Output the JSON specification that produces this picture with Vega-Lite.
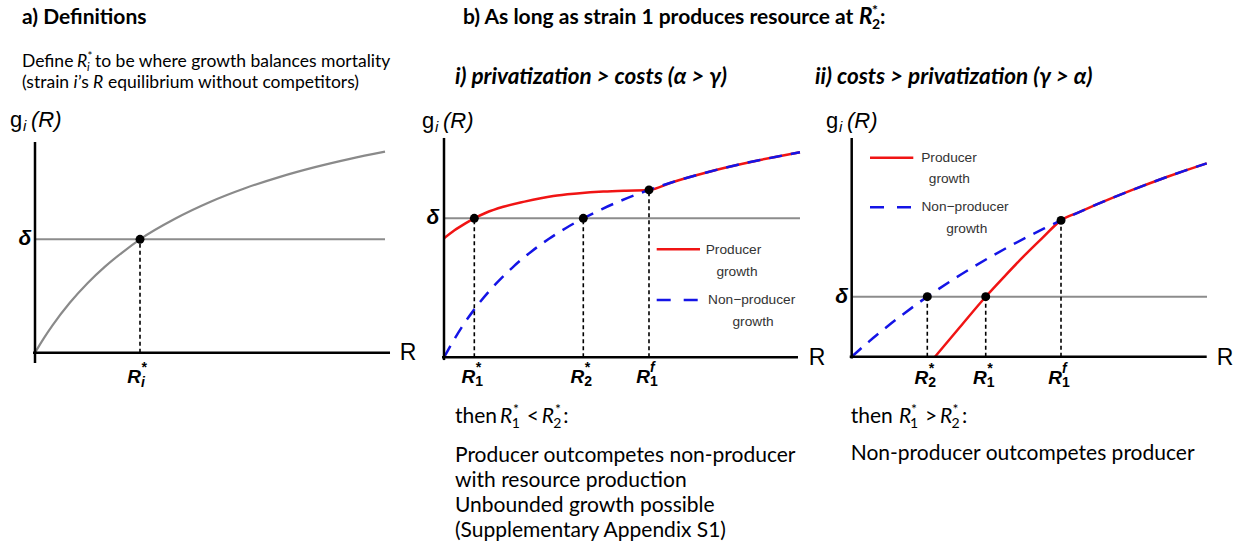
{
"$schema":"https://vega.github.io/schema/vega-lite/v6.json",
"padding":0,"spacing":0,"bounds":"flush","background":"white",
"config":{"view":{"stroke":null},"concat":{"spacing":0}},
"datasets":{
"segs":[
{"p":"a","k":"axis","R":0,"g":1.858,"R2":0,"g2":-0.091},
{"p":"a","k":"axis","R":-0.057,"g":0,"R2":10.143,"g2":0},
{"p":"a","k":"delta","R":0,"g":1,"R2":10,"g2":1},
{"p":"a","k":"vdash","R":3,"g":0,"R2":3,"g2":1},
{"p":"b1","k":"axis","R":0,"g":1.578,"R2":0,"g2":-0.02},
{"p":"b1","k":"axis","R":-0.057,"g":0,"R2":10.114,"g2":0},
{"p":"b1","k":"delta","R":0,"g":1,"R2":10.171,"g2":1},
{"p":"b1","k":"vdash","R":0.866,"g":0,"R2":0.866,"g2":1},
{"p":"b1","k":"vdash","R":3.98,"g":0,"R2":3.98,"g2":1},
{"p":"b1","k":"vdash","R":5.857,"g":0,"R2":5.857,"g2":1.204},
{"p":"b1","k":"legred","R":6.077,"g":0.777,"R2":7.314,"g2":0.777},
{"p":"b1","k":"legblue","R":6.077,"g":0.412,"R2":7.314,"g2":0.412},
{"p":"b2","k":"axis","R":0,"g":3.645,"R2":0,"g2":-0.03},
{"p":"b2","k":"axis","R":-0.057,"g":0,"R2":10.143,"g2":0},
{"p":"b2","k":"delta","R":0,"g":1,"R2":10.151,"g2":1},
{"p":"b2","k":"vdash","R":2.16,"g":0,"R2":2.16,"g2":1},
{"p":"b2","k":"vdash","R":3.829,"g":0,"R2":3.829,"g2":1},
{"p":"b2","k":"vdash","R":5.98,"g":0,"R2":5.98,"g2":2.272},
{"p":"b2","k":"legred","R":0.523,"g":3.317,"R2":1.76,"g2":3.317},
{"p":"b2","k":"legblue","R":0.523,"g":2.49,"R2":1.76,"g2":2.49}
],
"curves":[
{"p":"a","s":"grey","R":0,"g":0},{"p":"a","s":"grey","R":0.25,"g":0.1265},{"p":"a","s":"grey","R":0.5,"g":0.2414},{"p":"a","s":"grey","R":1,"g":0.4427},{"p":"a","s":"grey","R":1.5,"g":0.613},{"p":"a","s":"grey","R":2,"g":0.7591},{"p":"a","s":"grey","R":2.5,"g":0.8857},{"p":"a","s":"grey","R":3,"g":1.0},{"p":"a","s":"grey","R":4,"g":1.1812},{"p":"a","s":"grey","R":5,"g":1.329},{"p":"a","s":"grey","R":6,"g":1.45},{"p":"a","s":"grey","R":7,"g":1.5508},{"p":"a","s":"grey","R":8,"g":1.6362},{"p":"a","s":"grey","R":9,"g":1.7093},{"p":"a","s":"grey","R":10,"g":1.7727},
{"p":"b1","s":"red","R":0,"g":0.856},{"p":"b1","s":"red","R":0.3,"g":0.914},{"p":"b1","s":"red","R":0.6,"g":0.962},{"p":"b1","s":"red","R":0.866,"g":1.0},{"p":"b1","s":"red","R":1.2,"g":1.04},{"p":"b1","s":"red","R":1.694,"g":1.083},{"p":"b1","s":"red","R":2.3,"g":1.12},{"p":"b1","s":"red","R":3.123,"g":1.16},{"p":"b1","s":"red","R":3.8,"g":1.178},{"p":"b1","s":"red","R":4.551,"g":1.192},{"p":"b1","s":"red","R":5.2,"g":1.199},{"p":"b1","s":"red","R":5.857,"g":1.204},{"p":"b1","s":"red","R":6.5,"g":1.2578},{"p":"b1","s":"red","R":7,"g":1.2955},{"p":"b1","s":"red","R":7.5,"g":1.33},{"p":"b1","s":"red","R":8,"g":1.3618},{"p":"b1","s":"red","R":8.5,"g":1.3911},{"p":"b1","s":"red","R":9,"g":1.4182},{"p":"b1","s":"red","R":9.5,"g":1.4434},{"p":"b1","s":"red","R":10.171,"g":1.4746},
{"p":"b1","s":"blue","R":0,"g":0},{"p":"b1","s":"blue","R":0.5,"g":0.2137},{"p":"b1","s":"blue","R":1,"g":0.3882},{"p":"b1","s":"blue","R":1.5,"g":0.5335},{"p":"b1","s":"blue","R":2,"g":0.6564},{"p":"b1","s":"blue","R":2.5,"g":0.7616},{"p":"b1","s":"blue","R":3,"g":0.8527},{"p":"b1","s":"blue","R":3.5,"g":0.9323},{"p":"b1","s":"blue","R":3.98,"g":1.0},{"p":"b1","s":"blue","R":4.5,"g":1.065},{"p":"b1","s":"blue","R":5,"g":1.1209},{"p":"b1","s":"blue","R":5.5,"g":1.1711},{"p":"b1","s":"blue","R":5.857,"g":1.204},{"p":"b1","s":"blue","R":6.5,"g":1.2578},{"p":"b1","s":"blue","R":7,"g":1.2955},{"p":"b1","s":"blue","R":7.5,"g":1.33},{"p":"b1","s":"blue","R":8,"g":1.3618},{"p":"b1","s":"blue","R":8.5,"g":1.3911},{"p":"b1","s":"blue","R":9,"g":1.4182},{"p":"b1","s":"blue","R":9.5,"g":1.4434},{"p":"b1","s":"blue","R":10.171,"g":1.4746},
{"p":"b2","s":"red","R":2.38,"g":0},{"p":"b2","s":"red","R":3.1,"g":0.5},{"p":"b2","s":"red","R":3.829,"g":1.0},{"p":"b2","s":"red","R":4.4,"g":1.36},{"p":"b2","s":"red","R":4.903,"g":1.667},{"p":"b2","s":"red","R":5.45,"g":1.98},{"p":"b2","s":"red","R":5.98,"g":2.272},{"p":"b2","s":"red","R":6.5,"g":2.4105},{"p":"b2","s":"red","R":7,"g":2.5377},{"p":"b2","s":"red","R":7.5,"g":2.6594},{"p":"b2","s":"red","R":8,"g":2.7758},{"p":"b2","s":"red","R":8.5,"g":2.8873},{"p":"b2","s":"red","R":9,"g":2.9943},{"p":"b2","s":"red","R":9.5,"g":3.097},{"p":"b2","s":"red","R":10.143,"g":3.2232},
{"p":"b2","s":"blue","R":0,"g":0},{"p":"b2","s":"blue","R":0.5,"g":0.2558},{"p":"b2","s":"blue","R":1,"g":0.4959},{"p":"b2","s":"blue","R":1.5,"g":0.7217},{"p":"b2","s":"blue","R":2,"g":0.9345},{"p":"b2","s":"blue","R":2.16,"g":1.0},{"p":"b2","s":"blue","R":2.5,"g":1.1353},{"p":"b2","s":"blue","R":3,"g":1.3252},{"p":"b2","s":"blue","R":3.5,"g":1.505},{"p":"b2","s":"blue","R":4,"g":1.6754},{"p":"b2","s":"blue","R":4.5,"g":1.8373},{"p":"b2","s":"blue","R":5,"g":1.9911},{"p":"b2","s":"blue","R":5.5,"g":2.1376},{"p":"b2","s":"blue","R":5.98,"g":2.272},{"p":"b2","s":"blue","R":6.5,"g":2.4105},{"p":"b2","s":"blue","R":7,"g":2.5377},{"p":"b2","s":"blue","R":7.5,"g":2.6594},{"p":"b2","s":"blue","R":8,"g":2.7758},{"p":"b2","s":"blue","R":8.5,"g":2.8873},{"p":"b2","s":"blue","R":9,"g":2.9943},{"p":"b2","s":"blue","R":9.5,"g":3.097},{"p":"b2","s":"blue","R":10.143,"g":3.2232}
],
"pts":[
{"p":"a","R":3,"g":1},
{"p":"b1","R":0.866,"g":1},{"p":"b1","R":3.98,"g":1},{"p":"b1","R":5.857,"g":1.204},
{"p":"b2","R":2.16,"g":1},{"p":"b2","R":3.829,"g":1},{"p":"b2","R":5.98,"g":2.272}
],
"texts":[
{"p":"a","k":"hb","R":-0.371,"g":2.899,"t":"a) Definitions"},
{"p":"a","k":"d","R":-0.371,"g":2.519,"t":"Define"},
{"p":"a","k":"d","R":1.714,"g":2.519,"t":"to be where growth balances mortality"},
{"p":"a","k":"d","R":-0.371,"g":2.334,"t":"(strain"},
{"p":"a","k":"d","R":1.229,"g":2.334,"t":"’s"},
{"p":"a","k":"d","R":2.086,"g":2.334,"t":"equilibrium without competitors)"},
{"p":"a","k":"di","R":1.2,"g":2.519,"t":"R"},
{"p":"a","k":"di","R":1.1,"g":2.334,"t":"i"},
{"p":"a","k":"di","R":1.657,"g":2.334,"t":"R"},
{"p":"a","k":"dsub","R":1.486,"g":2.519,"t":"i"},
{"p":"a","k":"dsup","R":1.5,"g":2.519,"t":"*"},
{"p":"a","k":"ar","R":-0.714,"g":1.986,"t":"g"},
{"p":"a","k":"arsub","R":-0.343,"g":1.986,"t":"i"},
{"p":"a","k":"ari","R":-0.114,"g":1.986,"t":"(R)"},
{"p":"a","k":"delta","R":-0.286,"g":1.0,"t":"δ"},
{"p":"a","k":"axR","R":10.657,"g":0.0,"t":"R"},
{"p":"a","k":"lab","R":3.029,"g":-0.267,"t":"R"},
{"p":"a","k":"labsub","R":3.029,"g":-0.267,"t":"i"},
{"p":"a","k":"labsup","R":3.029,"g":-0.267,"t":"*"},
{"p":"b1","k":"hb","R":0.543,"g":2.398,"t":"b) As long as strain 1 produces resource at"},
{"p":"b1","k":"hbi","R":11.857,"g":2.398,"t":"R"},
{"p":"b1","k":"hbsub","R":12.229,"g":2.398,"t":"2"},
{"p":"b1","k":"hbsup","R":12.229,"g":2.398,"t":"*"},
{"p":"b1","k":"hb","R":12.457,"g":2.398,"t":":"},
{"p":"b1","k":"hbi","R":0.314,"g":1.966,"t":"i) privatization > costs (α > γ)"},
{"p":"b1","k":"ar","R":-0.629,"g":1.653,"t":"g"},
{"p":"b1","k":"arsub","R":-0.257,"g":1.653,"t":"i"},
{"p":"b1","k":"ari","R":-0.029,"g":1.653,"t":"(R)"},
{"p":"b1","k":"delta","R":-0.314,"g":1.0,"t":"δ"},
{"p":"b1","k":"axR","R":10.657,"g":-0.005,"t":"R"},
{"p":"b1","k":"lab","R":0.895,"g":-0.188,"t":"R"},
{"p":"b1","k":"labsub","R":0.895,"g":-0.188,"t":"1"},
{"p":"b1","k":"labsup","R":0.895,"g":-0.188,"t":"*"},
{"p":"b1","k":"lab","R":4.009,"g":-0.188,"t":"R"},
{"p":"b1","k":"labsub","R":4.009,"g":-0.188,"t":"2"},
{"p":"b1","k":"labsup","R":4.009,"g":-0.188,"t":"*"},
{"p":"b1","k":"lab","R":5.886,"g":-0.188,"t":"R"},
{"p":"b1","k":"labsub","R":5.886,"g":-0.188,"t":"1"},
{"p":"b1","k":"labsup","R":5.886,"g":-0.188,"t":"f"},
{"p":"b1","k":"leg","R":8.271,"g":0.772,"t":"Producer"},
{"p":"b1","k":"leg","R":8.371,"g":0.616,"t":"growth"},
{"p":"b1","k":"leg","R":8.791,"g":0.412,"t":"Non−producer"},
{"p":"b1","k":"leg","R":8.829,"g":0.256,"t":"growth"},
{"p":"b1","k":"b","R":0.314,"g":-0.475,"t":"then"},
{"p":"b1","k":"b","R":2.363,"g":-0.475,"t":"<"},
{"p":"b1","k":"b","R":3.409,"g":-0.475,"t":":"},
{"p":"b1","k":"b","R":0.314,"g":-0.751,"t":"Producer outcompetes non-producer"},
{"p":"b1","k":"b","R":0.314,"g":-0.931,"t":"with resource production"},
{"p":"b1","k":"b","R":0.314,"g":-1.111,"t":"Unbounded growth possible"},
{"p":"b1","k":"b","R":0.314,"g":-1.291,"t":"(Supplementary Appendix S1)"},
{"p":"b1","k":"bi","R":1.6,"g":-0.475,"t":"R"},
{"p":"b1","k":"bi","R":2.791,"g":-0.475,"t":"R"},
{"p":"b1","k":"bsub","R":1.934,"g":-0.475,"t":"1"},
{"p":"b1","k":"bsub","R":3.123,"g":-0.475,"t":"2"},
{"p":"b1","k":"bsup","R":1.971,"g":-0.475,"t":"*"},
{"p":"b1","k":"bsup","R":3.171,"g":-0.475,"t":"*"},
{"p":"b2","k":"hbi","R":-1.049,"g":4.545,"t":"ii) costs > privatization (γ > α)"},
{"p":"b2","k":"ar","R":-0.734,"g":3.82,"t":"g"},
{"p":"b2","k":"arsub","R":-0.366,"g":3.82,"t":"i"},
{"p":"b2","k":"ari","R":-0.134,"g":3.82,"t":"(R)"},
{"p":"b2","k":"delta","R":-0.286,"g":1.0,"t":"δ"},
{"p":"b2","k":"axR","R":10.666,"g":-0.022,"t":"R"},
{"p":"b2","k":"lab","R":2.189,"g":-0.447,"t":"R"},
{"p":"b2","k":"labsub","R":2.189,"g":-0.447,"t":"2"},
{"p":"b2","k":"labsup","R":2.189,"g":-0.447,"t":"*"},
{"p":"b2","k":"lab","R":3.857,"g":-0.447,"t":"R"},
{"p":"b2","k":"labsub","R":3.857,"g":-0.447,"t":"1"},
{"p":"b2","k":"labsup","R":3.857,"g":-0.447,"t":"*"},
{"p":"b2","k":"lab","R":6.009,"g":-0.447,"t":"R"},
{"p":"b2","k":"labsub","R":6.009,"g":-0.447,"t":"1"},
{"p":"b2","k":"labsup","R":6.009,"g":-0.447,"t":"f"},
{"p":"b2","k":"leg","R":2.78,"g":3.317,"t":"Producer"},
{"p":"b2","k":"leg","R":2.789,"g":2.957,"t":"growth"},
{"p":"b2","k":"leg","R":3.237,"g":2.49,"t":"Non−producer"},
{"p":"b2","k":"leg","R":3.286,"g":2.123,"t":"growth"},
{"p":"b2","k":"b","R":-0.029,"g":-1.11,"t":"then"},
{"p":"b2","k":"b","R":2.094,"g":-1.11,"t":">"},
{"p":"b2","k":"b","R":3.151,"g":-1.11,"t":":"},
{"p":"b2","k":"b","R":-0.029,"g":-1.722,"t":"Non-producer outcompetes producer"},
{"p":"b2","k":"bi","R":1.351,"g":-1.11,"t":"R"},
{"p":"b2","k":"bi","R":2.523,"g":-1.11,"t":"R"},
{"p":"b2","k":"bsub","R":1.666,"g":-1.11,"t":"1"},
{"p":"b2","k":"bsub","R":2.851,"g":-1.11,"t":"2"},
{"p":"b2","k":"bsup","R":1.694,"g":-1.11,"t":"*"},
{"p":"b2","k":"bsup","R":2.88,"g":-1.11,"t":"*"}
]
},
"hconcat":[
{"width":415,"height":548,
"encoding":{"x":{"field":"R","type":"quantitative","scale":{"domain":[-1,10.857],"nice":false,"zero":false},"axis":null},"y":{"field":"g","type":"quantitative","scale":{"domain":[-1.722,3.110],"nice":false,"zero":false},"axis":null}},
"layer":[
{"data":{"name":"segs"},"transform":[{"filter":"datum.p=='a'&&datum.k=='delta'"}],"mark":{"type":"rule","color":"#8c8c8c","strokeWidth":2},"encoding":{"x2":{"field":"R2"},"y2":{"field":"g2"}}},
{"data":{"name":"curves"},"transform":[{"filter":"datum.p=='a'"}],"mark":{"type":"line","color":"#8a8a8a","strokeWidth":2.2,"interpolate":"monotone"},"encoding":{}},
{"data":{"name":"segs"},"transform":[{"filter":"datum.p=='a'&&datum.k=='axis'"}],"mark":{"type":"rule","color":"#000","strokeWidth":2.5},"encoding":{"x2":{"field":"R2"},"y2":{"field":"g2"}}},
{"data":{"name":"segs"},"transform":[{"filter":"datum.p=='a'&&datum.k=='vdash'"}],"mark":{"type":"rule","color":"#000","strokeWidth":1.6,"strokeDash":[4,3]},"encoding":{"x2":{"field":"R2"},"y2":{"field":"g2"}}},
{"data":{"name":"pts"},"transform":[{"filter":"datum.p=='a'"}],"mark":{"type":"point","filled":true,"color":"#000","size":80,"opacity":1},"encoding":{}},
{"data":{"name":"texts"},"transform":[{"filter":"datum.p=='a'&&datum.k=='hb'"}],"mark":{"type":"text","font":"Lato","fontSize":21,"fontWeight":"bold","align":"left","baseline":"alphabetic","color":"#000"},"encoding":{"text":{"field":"t"}}},
{"data":{"name":"texts"},"transform":[{"filter":"datum.p=='a'&&datum.k=='d'"}],"mark":{"type":"text","font":"Lato","fontSize":17.5,"align":"left","baseline":"alphabetic","color":"#000"},"encoding":{"text":{"field":"t"}}},
{"data":{"name":"texts"},"transform":[{"filter":"datum.p=='a'&&datum.k=='di'"}],"mark":{"type":"text","font":"Lato","fontSize":17.5,"fontStyle":"italic","align":"left","baseline":"alphabetic","color":"#000"},"encoding":{"text":{"field":"t"}}},
{"data":{"name":"texts"},"transform":[{"filter":"datum.p=='a'&&datum.k=='dsub'"}],"mark":{"type":"text","font":"Lato","fontSize":11.5,"fontStyle":"italic","align":"left","baseline":"alphabetic","dy":4,"color":"#000"},"encoding":{"text":{"field":"t"}}},
{"data":{"name":"texts"},"transform":[{"filter":"datum.p=='a'&&datum.k=='dsup'"}],"mark":{"type":"text","font":"Lato","fontSize":11.5,"align":"left","baseline":"alphabetic","dy":-7,"color":"#000"},"encoding":{"text":{"field":"t"}}},
{"data":{"name":"texts"},"transform":[{"filter":"datum.p=='a'&&datum.k=='ar'"}],"mark":{"type":"text","font":"Liberation Sans","fontSize":22,"align":"left","baseline":"alphabetic","color":"#000"},"encoding":{"text":{"field":"t"}}},
{"data":{"name":"texts"},"transform":[{"filter":"datum.p=='a'&&datum.k=='arsub'"}],"mark":{"type":"text","font":"Liberation Sans","fontSize":15,"fontStyle":"italic","align":"left","baseline":"alphabetic","dy":4,"color":"#000"},"encoding":{"text":{"field":"t"}}},
{"data":{"name":"texts"},"transform":[{"filter":"datum.p=='a'&&datum.k=='ari'"}],"mark":{"type":"text","font":"Liberation Sans","fontSize":22,"fontStyle":"italic","align":"left","baseline":"alphabetic","color":"#000"},"encoding":{"text":{"field":"t"}}},
{"data":{"name":"texts"},"transform":[{"filter":"datum.p=='a'&&datum.k=='delta'"}],"mark":{"type":"text","font":"Liberation Sans","fontSize":21,"fontWeight":"bold","fontStyle":"italic","align":"center","baseline":"middle","color":"#000"},"encoding":{"text":{"field":"t"}}},
{"data":{"name":"texts"},"transform":[{"filter":"datum.p=='a'&&datum.k=='axR'"}],"mark":{"type":"text","font":"Liberation Sans","fontSize":23,"align":"center","baseline":"middle","color":"#000"},"encoding":{"text":{"field":"t"}}},
{"data":{"name":"texts"},"transform":[{"filter":"datum.p=='a'&&datum.k=='lab'"}],"mark":{"type":"text","font":"Liberation Sans","fontSize":19,"fontWeight":"bold","fontStyle":"italic","align":"right","baseline":"alphabetic","color":"#000"},"encoding":{"text":{"field":"t"}}},
{"data":{"name":"texts"},"transform":[{"filter":"datum.p=='a'&&datum.k=='labsub'"}],"mark":{"type":"text","font":"Liberation Sans","fontSize":14,"fontWeight":"bold","fontStyle":"italic","align":"left","baseline":"alphabetic","dy":4,"color":"#000"},"encoding":{"text":{"field":"t"}}},
{"data":{"name":"texts"},"transform":[{"filter":"datum.p=='a'&&datum.k=='labsup'"}],"mark":{"type":"text","font":"Liberation Sans","fontSize":14,"fontWeight":"bold","fontStyle":"italic","align":"left","baseline":"alphabetic","dy":-11,"color":"#000"},"encoding":{"text":{"field":"t"}}}
]},
{"width":415,"height":548,
"encoding":{"x":{"field":"R","type":"quantitative","scale":{"domain":[-0.8286,11.0286],"nice":false,"zero":false},"axis":null},"y":{"field":"g","type":"quantitative","scale":{"domain":[-1.3719,2.5705],"nice":false,"zero":false},"axis":null}},
"layer":[
{"data":{"name":"segs"},"transform":[{"filter":"datum.p=='b1'&&datum.k=='delta'"}],"mark":{"type":"rule","color":"#8c8c8c","strokeWidth":2},"encoding":{"x2":{"field":"R2"},"y2":{"field":"g2"}}},
{"data":{"name":"curves"},"transform":[{"filter":"datum.p=='b1'&&datum.s=='red'"}],"mark":{"type":"line","color":"#f01414","strokeWidth":2.5,"interpolate":"monotone"},"encoding":{}},
{"data":{"name":"curves"},"transform":[{"filter":"datum.p=='b1'&&datum.s=='blue'"}],"mark":{"type":"line","color":"#1414e6","strokeWidth":2.5,"strokeDash":[13,9],"interpolate":"monotone"},"encoding":{}},
{"data":{"name":"segs"},"transform":[{"filter":"datum.p=='b1'&&datum.k=='axis'"}],"mark":{"type":"rule","color":"#000","strokeWidth":2.5},"encoding":{"x2":{"field":"R2"},"y2":{"field":"g2"}}},
{"data":{"name":"segs"},"transform":[{"filter":"datum.p=='b1'&&datum.k=='vdash'"}],"mark":{"type":"rule","color":"#000","strokeWidth":1.6,"strokeDash":[4,3]},"encoding":{"x2":{"field":"R2"},"y2":{"field":"g2"}}},
{"data":{"name":"segs"},"transform":[{"filter":"datum.p=='b1'&&datum.k=='legred'"}],"mark":{"type":"rule","color":"#f01414","strokeWidth":2.5},"encoding":{"x2":{"field":"R2"},"y2":{"field":"g2"}}},
{"data":{"name":"segs"},"transform":[{"filter":"datum.p=='b1'&&datum.k=='legblue'"}],"mark":{"type":"rule","color":"#1414e6","strokeWidth":2.5,"strokeDash":[14,13]},"encoding":{"x2":{"field":"R2"},"y2":{"field":"g2"}}},
{"data":{"name":"pts"},"transform":[{"filter":"datum.p=='b1'"}],"mark":{"type":"point","filled":true,"color":"#000","size":80,"opacity":1},"encoding":{}},
{"data":{"name":"texts"},"transform":[{"filter":"datum.p=='b1'&&datum.k=='hb'"}],"mark":{"type":"text","font":"Lato","fontSize":21,"fontWeight":"bold","align":"left","baseline":"alphabetic","color":"#000"},"encoding":{"text":{"field":"t"}}},
{"data":{"name":"texts"},"transform":[{"filter":"datum.p=='b1'&&datum.k=='hbi'"}],"mark":{"type":"text","font":"Lato","fontSize":22.5,"fontWeight":"bold","fontStyle":"italic","align":"left","baseline":"alphabetic","color":"#000"},"encoding":{"text":{"field":"t"}}},
{"data":{"name":"texts"},"transform":[{"filter":"datum.p=='b1'&&datum.k=='hbsub'"}],"mark":{"type":"text","font":"Lato","fontSize":14,"fontWeight":"bold","align":"left","baseline":"alphabetic","dy":5,"color":"#000"},"encoding":{"text":{"field":"t"}}},
{"data":{"name":"texts"},"transform":[{"filter":"datum.p=='b1'&&datum.k=='hbsup'"}],"mark":{"type":"text","font":"Lato","fontSize":14,"fontWeight":"bold","align":"left","baseline":"alphabetic","dy":-9,"color":"#000"},"encoding":{"text":{"field":"t"}}},
{"data":{"name":"texts"},"transform":[{"filter":"datum.p=='b1'&&datum.k=='ar'"}],"mark":{"type":"text","font":"Liberation Sans","fontSize":22,"align":"left","baseline":"alphabetic","color":"#000"},"encoding":{"text":{"field":"t"}}},
{"data":{"name":"texts"},"transform":[{"filter":"datum.p=='b1'&&datum.k=='arsub'"}],"mark":{"type":"text","font":"Liberation Sans","fontSize":15,"fontStyle":"italic","align":"left","baseline":"alphabetic","dy":4,"color":"#000"},"encoding":{"text":{"field":"t"}}},
{"data":{"name":"texts"},"transform":[{"filter":"datum.p=='b1'&&datum.k=='ari'"}],"mark":{"type":"text","font":"Liberation Sans","fontSize":22,"fontStyle":"italic","align":"left","baseline":"alphabetic","color":"#000"},"encoding":{"text":{"field":"t"}}},
{"data":{"name":"texts"},"transform":[{"filter":"datum.p=='b1'&&datum.k=='delta'"}],"mark":{"type":"text","font":"Liberation Sans","fontSize":21,"fontWeight":"bold","fontStyle":"italic","align":"center","baseline":"middle","color":"#000"},"encoding":{"text":{"field":"t"}}},
{"data":{"name":"texts"},"transform":[{"filter":"datum.p=='b1'&&datum.k=='axR'"}],"mark":{"type":"text","font":"Liberation Sans","fontSize":23,"align":"center","baseline":"middle","color":"#000"},"encoding":{"text":{"field":"t"}}},
{"data":{"name":"texts"},"transform":[{"filter":"datum.p=='b1'&&datum.k=='lab'"}],"mark":{"type":"text","font":"Liberation Sans","fontSize":19,"fontWeight":"bold","fontStyle":"italic","align":"right","baseline":"alphabetic","color":"#000"},"encoding":{"text":{"field":"t"}}},
{"data":{"name":"texts"},"transform":[{"filter":"datum.p=='b1'&&datum.k=='labsub'"}],"mark":{"type":"text","font":"Liberation Sans","fontSize":14,"fontWeight":"bold","align":"left","baseline":"alphabetic","dy":3,"color":"#000"},"encoding":{"text":{"field":"t"}}},
{"data":{"name":"texts"},"transform":[{"filter":"datum.p=='b1'&&datum.k=='labsup'"}],"mark":{"type":"text","font":"Liberation Sans","fontSize":14,"fontWeight":"bold","fontStyle":"italic","align":"left","baseline":"alphabetic","dy":-11,"color":"#000"},"encoding":{"text":{"field":"t"}}},
{"data":{"name":"texts"},"transform":[{"filter":"datum.p=='b1'&&datum.k=='leg'"}],"mark":{"type":"text","font":"Liberation Sans","fontSize":13.7,"align":"center","baseline":"middle","color":"#333"},"encoding":{"text":{"field":"t"}}},
{"data":{"name":"texts"},"transform":[{"filter":"datum.p=='b1'&&datum.k=='b'"}],"mark":{"type":"text","font":"Lato","fontSize":21,"align":"left","baseline":"alphabetic","color":"#000"},"encoding":{"text":{"field":"t"}}},
{"data":{"name":"texts"},"transform":[{"filter":"datum.p=='b1'&&datum.k=='bi'"}],"mark":{"type":"text","font":"Lato","fontSize":21,"fontStyle":"italic","align":"left","baseline":"alphabetic","color":"#000"},"encoding":{"text":{"field":"t"}}},
{"data":{"name":"texts"},"transform":[{"filter":"datum.p=='b1'&&datum.k=='bsub'"}],"mark":{"type":"text","font":"Lato","fontSize":14,"align":"left","baseline":"alphabetic","dy":5,"color":"#000"},"encoding":{"text":{"field":"t"}}},
{"data":{"name":"texts"},"transform":[{"filter":"datum.p=='b1'&&datum.k=='bsup'"}],"mark":{"type":"text","font":"Lato","fontSize":14,"align":"left","baseline":"alphabetic","dy":-9,"color":"#000"},"encoding":{"text":{"field":"t"}}}
]},
{"width":415,"height":548,
"encoding":{"x":{"field":"R","type":"quantitative","scale":{"domain":[-0.62,11.237],"nice":false,"zero":false},"axis":null},"y":{"field":"g","type":"quantitative","scale":{"domain":[-3.188,5.945],"nice":false,"zero":false},"axis":null}},
"layer":[
{"data":{"name":"segs"},"transform":[{"filter":"datum.p=='b2'&&datum.k=='delta'"}],"mark":{"type":"rule","color":"#8c8c8c","strokeWidth":2},"encoding":{"x2":{"field":"R2"},"y2":{"field":"g2"}}},
{"data":{"name":"curves"},"transform":[{"filter":"datum.p=='b2'&&datum.s=='red'"}],"mark":{"type":"line","color":"#f01414","strokeWidth":2.5,"interpolate":"monotone"},"encoding":{}},
{"data":{"name":"curves"},"transform":[{"filter":"datum.p=='b2'&&datum.s=='blue'"}],"mark":{"type":"line","color":"#1414e6","strokeWidth":2.5,"strokeDash":[13,9],"interpolate":"monotone"},"encoding":{}},
{"data":{"name":"segs"},"transform":[{"filter":"datum.p=='b2'&&datum.k=='axis'"}],"mark":{"type":"rule","color":"#000","strokeWidth":2.5},"encoding":{"x2":{"field":"R2"},"y2":{"field":"g2"}}},
{"data":{"name":"segs"},"transform":[{"filter":"datum.p=='b2'&&datum.k=='vdash'"}],"mark":{"type":"rule","color":"#000","strokeWidth":1.6,"strokeDash":[4,3]},"encoding":{"x2":{"field":"R2"},"y2":{"field":"g2"}}},
{"data":{"name":"segs"},"transform":[{"filter":"datum.p=='b2'&&datum.k=='legred'"}],"mark":{"type":"rule","color":"#f01414","strokeWidth":2.5},"encoding":{"x2":{"field":"R2"},"y2":{"field":"g2"}}},
{"data":{"name":"segs"},"transform":[{"filter":"datum.p=='b2'&&datum.k=='legblue'"}],"mark":{"type":"rule","color":"#1414e6","strokeWidth":2.5,"strokeDash":[14,13]},"encoding":{"x2":{"field":"R2"},"y2":{"field":"g2"}}},
{"data":{"name":"pts"},"transform":[{"filter":"datum.p=='b2'"}],"mark":{"type":"point","filled":true,"color":"#000","size":80,"opacity":1},"encoding":{}},
{"data":{"name":"texts"},"transform":[{"filter":"datum.p=='b2'&&datum.k=='hbi'"}],"mark":{"type":"text","font":"Lato","fontSize":22.5,"fontWeight":"bold","fontStyle":"italic","align":"left","baseline":"alphabetic","color":"#000"},"encoding":{"text":{"field":"t"}}},
{"data":{"name":"texts"},"transform":[{"filter":"datum.p=='b2'&&datum.k=='ar'"}],"mark":{"type":"text","font":"Liberation Sans","fontSize":22,"align":"left","baseline":"alphabetic","color":"#000"},"encoding":{"text":{"field":"t"}}},
{"data":{"name":"texts"},"transform":[{"filter":"datum.p=='b2'&&datum.k=='arsub'"}],"mark":{"type":"text","font":"Liberation Sans","fontSize":15,"fontStyle":"italic","align":"left","baseline":"alphabetic","dy":4,"color":"#000"},"encoding":{"text":{"field":"t"}}},
{"data":{"name":"texts"},"transform":[{"filter":"datum.p=='b2'&&datum.k=='ari'"}],"mark":{"type":"text","font":"Liberation Sans","fontSize":22,"fontStyle":"italic","align":"left","baseline":"alphabetic","color":"#000"},"encoding":{"text":{"field":"t"}}},
{"data":{"name":"texts"},"transform":[{"filter":"datum.p=='b2'&&datum.k=='delta'"}],"mark":{"type":"text","font":"Liberation Sans","fontSize":21,"fontWeight":"bold","fontStyle":"italic","align":"center","baseline":"middle","color":"#000"},"encoding":{"text":{"field":"t"}}},
{"data":{"name":"texts"},"transform":[{"filter":"datum.p=='b2'&&datum.k=='axR'"}],"mark":{"type":"text","font":"Liberation Sans","fontSize":23,"align":"center","baseline":"middle","color":"#000"},"encoding":{"text":{"field":"t"}}},
{"data":{"name":"texts"},"transform":[{"filter":"datum.p=='b2'&&datum.k=='lab'"}],"mark":{"type":"text","font":"Liberation Sans","fontSize":19,"fontWeight":"bold","fontStyle":"italic","align":"right","baseline":"alphabetic","color":"#000"},"encoding":{"text":{"field":"t"}}},
{"data":{"name":"texts"},"transform":[{"filter":"datum.p=='b2'&&datum.k=='labsub'"}],"mark":{"type":"text","font":"Liberation Sans","fontSize":14,"fontWeight":"bold","align":"left","baseline":"alphabetic","dy":3,"color":"#000"},"encoding":{"text":{"field":"t"}}},
{"data":{"name":"texts"},"transform":[{"filter":"datum.p=='b2'&&datum.k=='labsup'"}],"mark":{"type":"text","font":"Liberation Sans","fontSize":14,"fontWeight":"bold","fontStyle":"italic","align":"left","baseline":"alphabetic","dy":-11,"color":"#000"},"encoding":{"text":{"field":"t"}}},
{"data":{"name":"texts"},"transform":[{"filter":"datum.p=='b2'&&datum.k=='leg'"}],"mark":{"type":"text","font":"Liberation Sans","fontSize":13.7,"align":"center","baseline":"middle","color":"#333"},"encoding":{"text":{"field":"t"}}},
{"data":{"name":"texts"},"transform":[{"filter":"datum.p=='b2'&&datum.k=='b'"}],"mark":{"type":"text","font":"Lato","fontSize":21,"align":"left","baseline":"alphabetic","color":"#000"},"encoding":{"text":{"field":"t"}}},
{"data":{"name":"texts"},"transform":[{"filter":"datum.p=='b2'&&datum.k=='bi'"}],"mark":{"type":"text","font":"Lato","fontSize":21,"fontStyle":"italic","align":"left","baseline":"alphabetic","color":"#000"},"encoding":{"text":{"field":"t"}}},
{"data":{"name":"texts"},"transform":[{"filter":"datum.p=='b2'&&datum.k=='bsub'"}],"mark":{"type":"text","font":"Lato","fontSize":14,"align":"left","baseline":"alphabetic","dy":5,"color":"#000"},"encoding":{"text":{"field":"t"}}},
{"data":{"name":"texts"},"transform":[{"filter":"datum.p=='b2'&&datum.k=='bsup'"}],"mark":{"type":"text","font":"Lato","fontSize":14,"align":"left","baseline":"alphabetic","dy":-9,"color":"#000"},"encoding":{"text":{"field":"t"}}}
]}
]
}
